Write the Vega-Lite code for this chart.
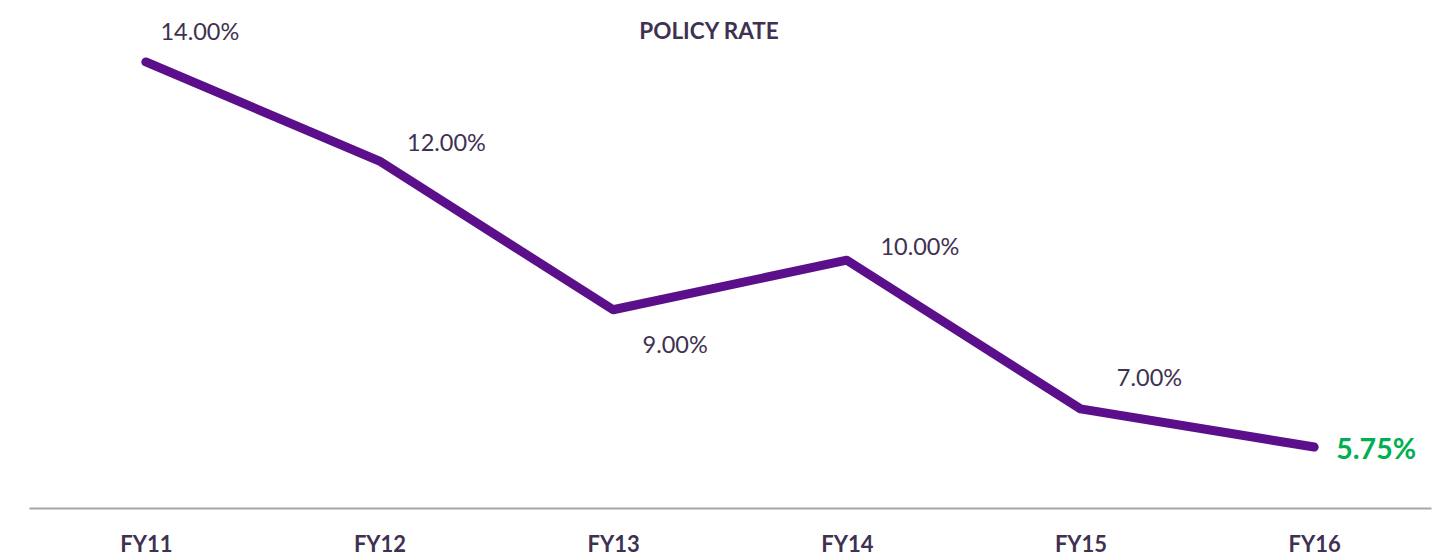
{
  "$schema": "https://vega.github.io/schema/vega-lite/v6.json",
  "autosize": {"type": "none"},
  "width": 1402,
  "height": 508,
  "padding": {"left": 29, "top": 0, "right": 1, "bottom": 46},
  "background": "white",
  "title": {
    "text": "POLICY RATE",
    "anchor": "middle",
    "offset": -43,
    "dx": -21,
    "font": "Lato",
    "fontSize": 22.5,
    "fontWeight": "bold",
    "color": "#3f3151"
  },
  "config": {"view": {"stroke": null}},
  "data": {
    "values": [
      {"year": "FY11", "rate": 14.0, "label": "14.00%"},
      {"year": "FY12", "rate": 12.0, "label": "12.00%"},
      {"year": "FY13", "rate": 9.0, "label": "9.00%"},
      {"year": "FY14", "rate": 10.0, "label": "10.00%"},
      {"year": "FY15", "rate": 7.0, "label": "7.00%"},
      {"year": "FY16", "rate": 6.23, "label": "5.75%"}
    ]
  },
  "encoding": {
    "x": {
      "field": "year",
      "type": "ordinal",
      "sort": null,
      "scale": {"type": "point", "padding": 0.5},
      "axis": {
        "title": null,
        "ticks": false,
        "domainColor": "#a6a6a6",
        "domainWidth": 2,
        "labelFont": "Lato",
        "labelFontSize": 22,
        "labelFontWeight": "bold",
        "labelColor": "#3f3151",
        "labelPadding": 26,
        "labelAngle": 0
      }
    },
    "y": {
      "field": "rate",
      "type": "quantitative",
      "scale": {"domain": [5, 15.25], "zero": false, "nice": false},
      "axis": null
    }
  },
  "layer": [
    {
      "mark": {"type": "line", "color": "#5c0f8b", "strokeWidth": 9, "strokeCap": "round", "strokeJoin": "round"}
    },
    {
      "transform": [{"filter": "datum.year == 'FY11'"}],
      "mark": {"type": "text", "font": "Lato", "fontSize": 23.5, "color": "#3f3151", "dx": 54, "dy": -29, "baseline": "middle", "align": "center"},
      "encoding": {"text": {"field": "label"}}
    },
    {
      "transform": [{"filter": "datum.year == 'FY12'"}],
      "mark": {"type": "text", "font": "Lato", "fontSize": 23.5, "color": "#3f3151", "dx": 67, "dy": -17, "baseline": "middle", "align": "center"},
      "encoding": {"text": {"field": "label"}}
    },
    {
      "transform": [{"filter": "datum.year == 'FY13'"}],
      "mark": {"type": "text", "font": "Lato", "fontSize": 23.5, "color": "#3f3151", "dx": 62, "dy": 36, "baseline": "middle", "align": "center"},
      "encoding": {"text": {"field": "label"}}
    },
    {
      "transform": [{"filter": "datum.year == 'FY14'"}],
      "mark": {"type": "text", "font": "Lato", "fontSize": 23.5, "color": "#3f3151", "dx": 73, "dy": -12, "baseline": "middle", "align": "center"},
      "encoding": {"text": {"field": "label"}}
    },
    {
      "transform": [{"filter": "datum.year == 'FY15'"}],
      "mark": {"type": "text", "font": "Lato", "fontSize": 23.5, "color": "#3f3151", "dx": 69, "dy": -30, "baseline": "middle", "align": "center"},
      "encoding": {"text": {"field": "label"}}
    },
    {
      "transform": [{"filter": "datum.year == 'FY16'"}],
      "mark": {"type": "text", "font": "Lato", "fontSize": 28.5, "fontWeight": "bold", "color": "#00b050", "dx": 62, "dy": 3, "baseline": "middle", "align": "center"},
      "encoding": {"text": {"field": "label"}}
    }
  ]
}
